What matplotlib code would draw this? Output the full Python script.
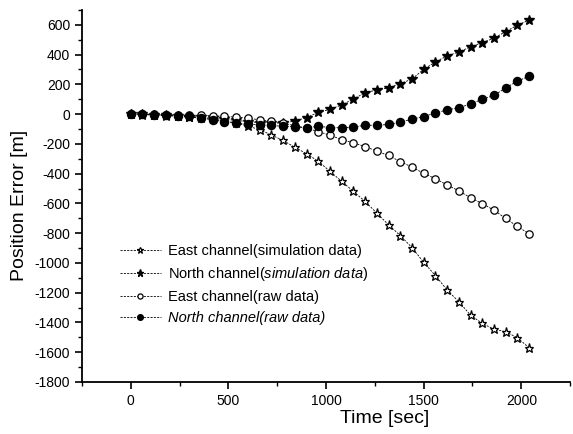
import matplotlib
matplotlib.use("Agg")
import matplotlib.pyplot as plt
from matplotlib.ticker import MultipleLocator

plt.rcParams["font.family"] = ["Liberation Sans", "DejaVu Sans"]
plt.rcParams["mathtext.fontset"] = "custom"
plt.rcParams["mathtext.rm"] = "Liberation Sans"
plt.rcParams["mathtext.it"] = "Liberation Sans:italic"
plt.rcParams["axes.unicode_minus"] = False

# Data (time in sec, position error in m)
time_sec = [0, 60, 120, 180, 240, 300, 360, 420, 480, 540, 600, 660, 720, 780,
            840, 900, 960, 1020, 1080, 1140, 1200, 1260, 1320, 1380, 1440, 1500,
            1560, 1620, 1680, 1740, 1800, 1860, 1920, 1980, 2040]

east_sim = [0, -3, -6, -10, -15, -20, -27, -35, -45, -60, -80, -105, -140, -177,
            -223, -266, -317, -384, -452, -519, -587, -665, -744, -816, -897, -996,
            -1085, -1182, -1261, -1351, -1407, -1445, -1463, -1503, -1571]

north_sim = [0, -2, -5, -8, -12, -17, -22, -28, -35, -42, -50, -57, -62, -59,
             -47, -23, 12, 32, 62, 101, 144, 162, 177, 204, 236, 301,
             351, 391, 418, 452, 481, 510, 555, 598, 632]

east_raw = [0, 0, -2, -3, -5, -8, -8, -12, -15, -20, -28, -38, -48, -60,
            -78, -95, -117, -142, -171, -193, -218, -249, -278, -319, -356, -398,
            -434, -476, -516, -562, -601, -646, -701, -755, -804]

north_raw = [0, 0, -3, -5, -12, -15, -25, -38, -52, -60, -68, -72, -76, -82,
             -84, -92, -82, -90, -92, -88, -74, -76, -69, -54, -34, -16,
             7, 29, 42, 69, 99, 126, 176, 222, 254]

labels = ["East channel(simulation data)",
          r"North channel($\mathit{simulation\ data}$)",
          "East channel(raw data)",
          "North channel(raw data)"]

fig = plt.figure(figsize=(5.73, 4.34), dpi=100)
ax = fig.add_axes([0.143, 0.12, 0.852, 0.857])

line_kw = dict(color="black", linewidth=0.6, linestyle=(0, (2.5, 1.5)))

ax.plot(time_sec, east_sim, marker="*", markersize=6.5, markerfacecolor="white",
        markeredgecolor="black", markeredgewidth=0.9, label=labels[0], **line_kw)
ax.plot(time_sec, north_sim, marker="*", markersize=7.5, markerfacecolor="black",
        markeredgecolor="black", label=labels[1], **line_kw)
ax.plot(time_sec, east_raw, marker="o", markersize=5.3, markerfacecolor="white",
        markeredgecolor="black", markeredgewidth=0.9, label=labels[2], **line_kw)
ax.plot(time_sec, north_raw, marker="o", markersize=5.8, markerfacecolor="black",
        markeredgecolor="black", label=labels[3], **line_kw)

ax.set_xlim(-250, 2250)
ax.set_ylim(-1800, 700)
ax.xaxis.set_major_locator(MultipleLocator(500))
ax.xaxis.set_minor_locator(MultipleLocator(250))
ax.yaxis.set_minor_locator(MultipleLocator(100))
ax.set_yticks(range(-1800, 601, 200))

for side in ["top", "right"]:
    ax.spines[side].set_visible(False)
for side in ["left", "bottom"]:
    ax.spines[side].set_linewidth(1.3)

ax.tick_params(which="major", direction="out", length=5, width=1.2, labelsize=10)
ax.tick_params(which="minor", direction="out", length=3, width=1.0)

ax.set_xlabel("Time [sec]", fontsize=14)
ax.set_ylabel("Position Error [m]", fontsize=14)
ax.xaxis.set_label_coords(0.62, -0.075)
ax.yaxis.set_label_coords(-0.11, 0.475)

leg = ax.legend(loc="upper left", bbox_to_anchor=(0.078, 0.37), frameon=False,
                fontsize=10.5, handlelength=2.8, handletextpad=0.5,
                labelspacing=0.47, borderaxespad=0, borderpad=0, markerscale=0.7)
leg.get_texts()[3].set_style("italic")

fig.savefig("out.png", dpi=100)
